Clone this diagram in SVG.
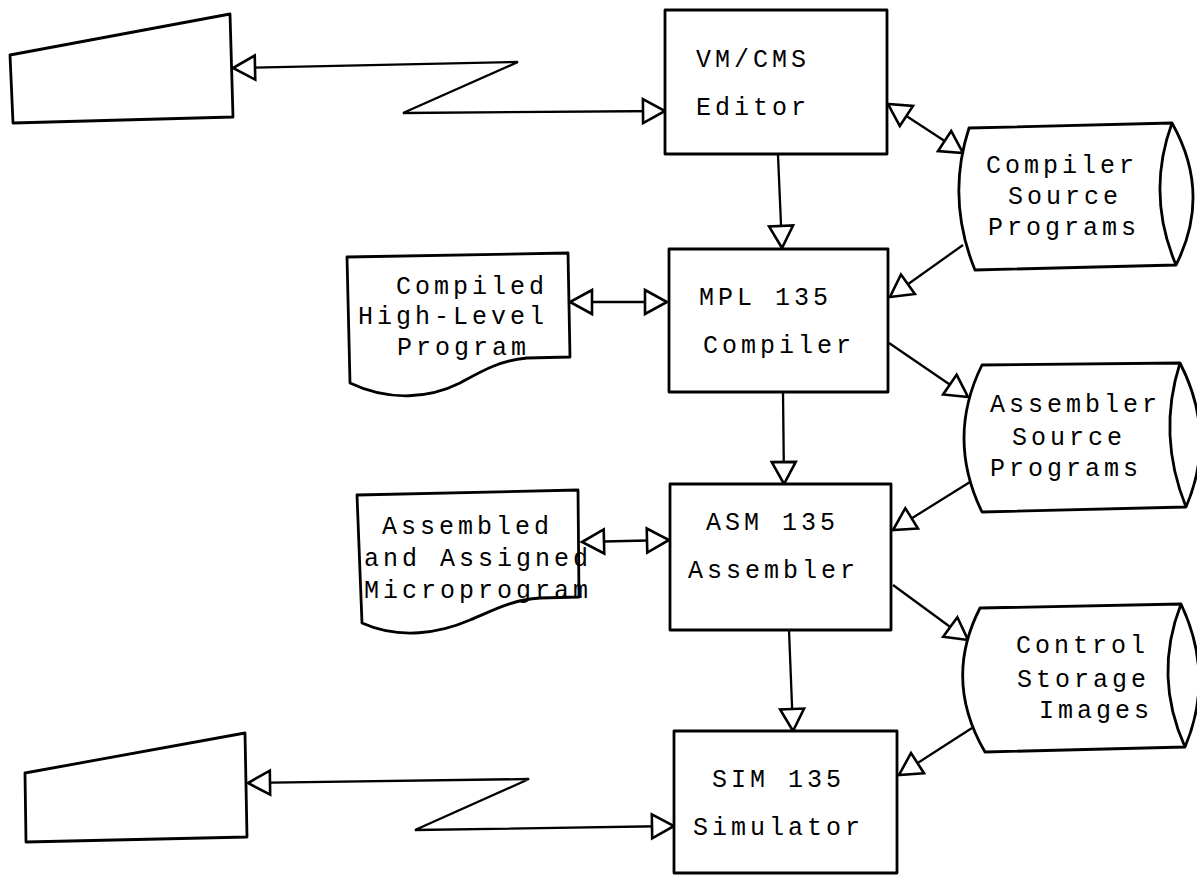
<svg xmlns="http://www.w3.org/2000/svg" width="1197" height="877" viewBox="0 0 1197 877">
<style>
.s{fill:#fff;stroke:#000;stroke-width:2.8;stroke-linejoin:round}
.ln{fill:none;stroke:#000;stroke-width:2.3}
.t{font-family:"Liberation Mono","DejaVu Sans Mono",monospace;font-size:25px;letter-spacing:4px;fill:#000}
</style>
<defs>
<marker id="ah" markerUnits="userSpaceOnUse" markerWidth="30" markerHeight="30" viewBox="0 0 30 30" refX="25" refY="15" orient="auto-start-reverse" overflow="visible">
<path d="M3,3 L25,15 L3,27 Z" fill="#fff" stroke="#000" stroke-width="2.6" stroke-linejoin="miter"/>
</marker>
</defs>
<rect width="1197" height="877" fill="#fff"/>
<g id="connectors">
<path class="ln" d="M665,111 L403,113 L518,62 L233,68" marker-start="url(#ah)" marker-end="url(#ah)"/>
<path class="ln" d="M674,826 L415,830 L529,779 L248,783" marker-start="url(#ah)" marker-end="url(#ah)"/>
<path class="ln" d="M778,155 L782,248" marker-end="url(#ah)"/>
<path class="ln" d="M783,392 L784,484" marker-end="url(#ah)"/>
<path class="ln" d="M789,630 L793,731" marker-end="url(#ah)"/>
<path class="ln" d="M888,104 L963,153" marker-start="url(#ah)" marker-end="url(#ah)"/>
<path class="ln" d="M963,245 L890,297" marker-end="url(#ah)"/>
<path class="ln" d="M889,343 L968,397" marker-end="url(#ah)"/>
<path class="ln" d="M970,482 L893,530" marker-end="url(#ah)"/>
<path class="ln" d="M893,585 L968,640" marker-end="url(#ah)"/>
<path class="ln" d="M972,728 L899,775" marker-end="url(#ah)"/>
<path class="ln" d="M570,302 L667,302" marker-start="url(#ah)" marker-end="url(#ah)"/>
<path class="ln" d="M582,542 L669,540" marker-start="url(#ah)" marker-end="url(#ah)"/>
</g>
<g id="terminal-top"><polygon class="s" points="10,55 230,14 233,117 13,123"/></g>
<g id="terminal-bottom"><polygon class="s" points="25,773 245,733 247,837 26,842"/></g>
<g id="editor">
<rect class="s" x="665" y="10" width="222" height="144"/>
<text class="t" x="696" y="67">VM/CMS</text>
<text class="t" x="696" y="115">Editor</text>
</g>
<g id="compiler">
<rect class="s" x="669" y="249" width="219" height="143"/>
<text class="t" x="699" y="305">MPL 135</text>
<text class="t" x="703" y="353">Compiler</text>
</g>
<g id="assembler">
<rect class="s" x="670" y="484" width="221" height="146"/>
<text class="t" x="706" y="530">ASM 135</text>
<text class="t" x="688" y="578">Assembler</text>
</g>
<g id="simulator">
<rect class="s" x="674" y="731" width="223" height="142"/>
<text class="t" x="712" y="787">SIM 135</text>
<text class="t" x="693" y="835">Simulator</text>
</g>
<g id="compiler-source">
<path class="s" d="M1172,123 L969,128 Q946,199 975,270 L1176,265 Q1212,194 1172,123 Z"/>
<path class="ln" style="stroke-width:2.8" d="M1172,123 Q1146,194 1176,265"/>
<text class="t" x="986" y="173">Compiler</text>
<text class="t" x="1008" y="204">Source</text>
<text class="t" x="988" y="235">Programs</text>
</g>
<g id="assembler-source">
<path class="s" d="M1180,363 L982,365 Q946,438 982,512 L1186,507 Q1217,435 1180,363 Z"/>
<path class="ln" style="stroke-width:2.8" d="M1180,363 Q1157,435 1186,507"/>
<text class="t" x="990" y="412">Assembler</text>
<text class="t" x="1012" y="445">Source</text>
<text class="t" x="990" y="476">Programs</text>
</g>
<g id="control-storage">
<path class="s" d="M1181,604 L980,608 Q943,680 985,752 L1185,747 Q1215,676 1181,604 Z"/>
<path class="ln" style="stroke-width:2.8" d="M1181,604 Q1153,676 1185,747"/>
<text class="t" x="1016" y="653">Control</text>
<text class="t" x="1017" y="687">Storage</text>
<text class="t" x="1039" y="718">Images</text>
</g>
<g id="compiled-program">
<path class="s" d="M347,257 L568,253 L570,357 L527,358 C500,360 480,372 460,383 C430,398 390,402 350,383 Z"/>
<text class="t" x="396" y="294">Compiled</text>
<text class="t" x="358" y="324">High-Level</text>
<text class="t" x="397" y="355">Program</text>
</g>
<g id="assembled-microprogram">
<path class="s" d="M357,495 L578,490 L579,597 L540,598 C510,600 490,612 470,620 C440,633 400,640 362,623 Z"/>
<text class="t" x="382" y="534">Assembled</text>
<text class="t" x="364" y="566">and Assigned</text>
<text class="t" x="364" y="598">Microprogram</text>
</g>
</svg>
